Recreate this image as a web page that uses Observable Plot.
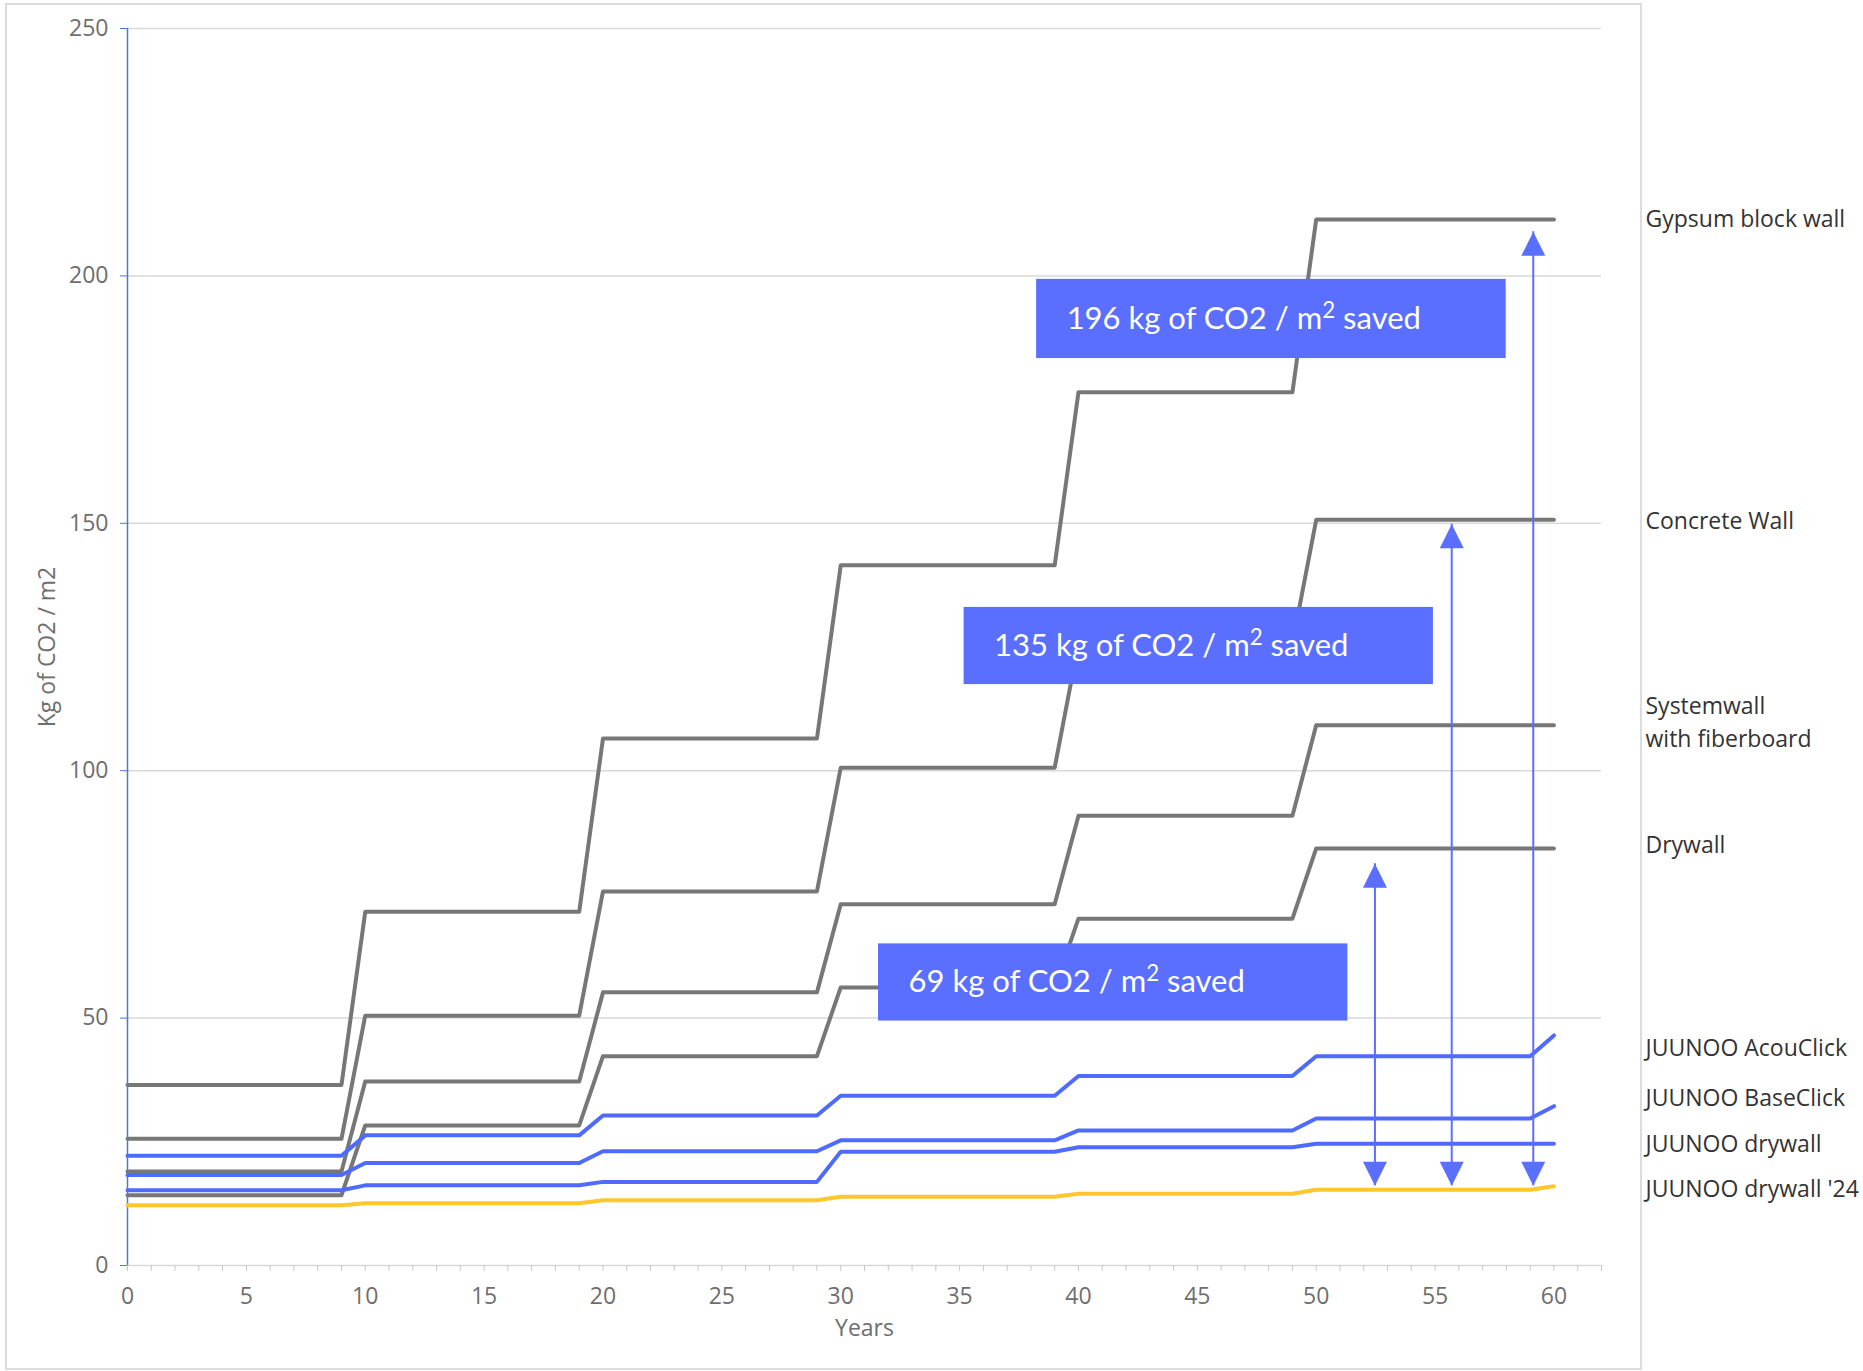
<!DOCTYPE html>
<html><head><meta charset="utf-8">
<script src="https://cdn.jsdelivr.net/npm/d3@7"></script>
<script src="https://cdn.jsdelivr.net/npm/@observablehq/plot@0.6"></script>
<style>
html,body{margin:0;padding:0;background:#fff;}
#wrap{position:relative;width:1863px;height:1371px;overflow:hidden;}
#wrap svg{position:absolute;left:0;top:0;overflow:visible;}
#border{position:absolute;left:5px;top:3px;width:1637px;height:1367px;box-sizing:border-box;border:2px solid #dcdcdc;pointer-events:none;}
</style></head><body><div id="wrap"><div id="border"></div></div>
<script>
// ---- data ----
const years = [0, 9, 10, 19, 20, 29, 30, 39, 40, 49, 50, 59, 60];
const gypsumBlockWall   = [36.5, 36.5, 71.5, 71.5, 106.5, 106.5, 141.5, 141.5, 176.5, 176.5, 211.4, 211.4, 211.4];
const concreteWall      = [25.6, 25.6, 50.5, 50.5, 75.6, 75.6, 100.6, 100.6, 125.7, 125.7, 150.7, 150.7, 150.7];
const systemwall        = [19.0, 19.0, 37.2, 37.2, 55.2, 55.2, 73.0, 73.0, 90.9, 90.9, 109.2, 109.2, 109.2];
const drywall           = [14.2, 14.2, 28.3, 28.3, 42.3, 42.3, 56.2, 56.2, 70.1, 70.1, 84.3, 84.3, 84.3];
const juunooAcouClick   = [22.2, 22.2, 26.3, 26.3, 30.3, 30.3, 34.3, 34.3, 38.3, 38.3, 42.3, 42.3, 46.5];
const juunooBaseClick   = [18.3, 18.3, 20.7, 20.7, 23.1, 23.1, 25.3, 25.3, 27.3, 27.3, 29.7, 29.7, 32.2];
const juunooDrywall     = [15.2, 15.2, 16.2, 16.2, 16.9, 16.9, 23.0, 23.0, 23.9, 23.9, 24.6, 24.6, 24.6];
const juunooDrywall24   = [12.2, 12.2, 12.6, 12.6, 13.2, 13.2, 13.9, 13.9, 14.5, 14.5, 15.3, 15.3, 16.0];

const grayNames = ["Gypsum block wall", "Concrete Wall", "Systemwall with fiberboard", "Drywall"];
const grayValues = [gypsumBlockWall, concreteWall, systemwall, drywall];
const blueNames = ["JUUNOO AcouClick", "JUUNOO BaseClick", "JUUNOO drywall"];
const blueValues = [juunooAcouClick, juunooBaseClick, juunooDrywall];
const yellowNames = ["JUUNOO drywall '24"];
const yellowValues = [juunooDrywall24];

// end labels (right side)
const labelNames = ["Gypsum block wall", "Concrete Wall", "Systemwall\nwith fiberboard", "Drywall",
  "JUUNOO AcouClick", "JUUNOO BaseClick", "JUUNOO drywall", "JUUNOO drywall '24"];
const labelValues = [211.6, 150.6, 109.8, 85.0, 44.1, 34.0, 24.7, 15.6];

// savings annotations
const boxLabels = ["196 kg of CO2 / m² saved", "135 kg of CO2 / m² saved", "69 kg of CO2 / m² saved"];
const boxYearStart = [38.24, 35.19, 31.59];
const boxYearEnd   = [57.99, 54.93, 51.33];
const boxLow  = [183.3, 117.4, 49.4];
const boxHigh = [199.3, 133.0, 65.0];

const arrowYears = [52.47, 55.70, 59.13];
const arrowTop = [81.2, 149.8, 208.9];
const arrowBottom = [16.1, 16.1, 16.1];

const yTicks = [0, 50, 100, 150, 200, 250];
const xTicks = d3.range(0, 63);
const xLabelEvery = 5;

// ---- build tables ----
const toRows = (names, values) => names.flatMap((name, i) => years.map((yr, j) => ({series: name, year: yr, value: values[i][j]})));
const grayRows = toRows(grayNames, grayValues);
const blueRows = toRows(blueNames, blueValues);
const yellowRows = toRows(yellowNames, yellowValues);
const boxes = boxLabels.map((t, i) => ({text: t, x1: boxYearStart[i], x2: boxYearEnd[i], y1: boxLow[i], y2: boxHigh[i]}));
const arrows = arrowYears.map((x, i) => ({x, top: arrowTop[i], bottom: arrowBottom[i]}));

const BLUE = "#4f6bff";
const BOX = "#5a6eff";
const TICK_TEXT = "#6e6e6e";
const arrowUp = {draw(ctx) { ctx.moveTo(0, 0); ctx.lineTo(12, 24); ctx.lineTo(-12, 24); ctx.closePath(); }};
const arrowDown = {draw(ctx) { ctx.moveTo(0, 0); ctx.lineTo(12, -24); ctx.lineTo(-12, -24); ctx.closePath(); }};

const chart = Plot.plot({
  width: 1863,
  height: 1371,
  marginLeft: 127,
  marginRight: 262,
  marginTop: 28,
  marginBottom: 106,
  x: {domain: [0, 62], label: null},
  y: {domain: [0, 250], label: null},
  style: {fontFamily: "'Open Sans', sans-serif", fontSize: "23px", background: "transparent", color: "#333"},
  marks: [
    Plot.gridY(yTicks.filter(d => d > 0), {stroke: "#d9d9d9", strokeOpacity: 1, strokeWidth: 1.5}),
    Plot.ruleY([0], {stroke: "#d9d9d9", strokeWidth: 1.5}),
    Plot.axisX({ticks: xTicks, tickFormat: d => d % xLabelEvery === 0 ? String(d) : "", tickSize: 6, tickPadding: 16, stroke: "#c8c8c8", fill: TICK_TEXT, fontSize: 23}),
    Plot.axisY({ticks: yTicks, tickSize: 7, tickPadding: 12, stroke: "#4a78d8", fill: TICK_TEXT, fontSize: 23}),
    Plot.ruleX([0], {stroke: "#4a78d8", strokeWidth: 1.5}),
    Plot.line(grayRows, {x: "year", y: "value", z: "series", stroke: "#777777", strokeWidth: 4}),
    Plot.line(blueRows, {x: "year", y: "value", z: "series", stroke: BLUE, strokeWidth: 4}),
    Plot.line(yellowRows, {x: "year", y: "value", z: "series", stroke: "#ffc72c", strokeWidth: 4}),
    Plot.rect(boxes, {x1: "x1", x2: "x2", y1: "y1", y2: "y2", fill: BOX}),
    Plot.text(boxes, {x: "x1", y: d => (d.y1 + d.y2) / 2, text: "text", dx: 30, textAnchor: "start", fill: "white", fontSize: 31, fontFamily: "Lato, 'Open Sans', sans-serif", className: "boxlabel"}),
    Plot.ruleX(arrows, {x: "x", y1: "bottom", y2: "top", stroke: BOX, strokeWidth: 2}),
    Plot.dot(arrows, {x: "x", y: "top", symbol: arrowUp, fill: BOX, stroke: "none"}),
    Plot.dot(arrows, {x: "x", y: "bottom", symbol: arrowDown, fill: BOX, stroke: "none"}),
    Plot.text(labelNames, {y: labelValues, text: d => d, frameAnchor: "right", dx: 44, dy: -2, textAnchor: "start", fontSize: 23, lineHeight: 1.4, fill: "#333"}),
    Plot.text(["Years"], {frameAnchor: "bottom", dy: 70, text: d => d, fill: TICK_TEXT, fontSize: 23}),
    Plot.text(["Kg of CO2 / m2"], {frameAnchor: "left", dx: -80, rotate: -90, textAnchor: "middle", text: d => d, fill: TICK_TEXT, fontSize: 23})
  ]
});
document.getElementById("wrap").prepend(chart);

// render the "²" as a larger superscript, like the original annotation
d3.select(chart).selectAll("g.boxlabel text").each(function() {
  const t = this.textContent;
  const i = t.indexOf("²");
  if (i < 0) return;
  const sel = d3.select(this);
  sel.text(null);
  sel.append("tspan").text(t.slice(0, i));
  sel.append("tspan").attr("dy", "-11").attr("font-size", "0.72em").text("2");
  sel.append("tspan").attr("dy", "11").text(t.slice(i + 1));
});
</script>
</body></html>
